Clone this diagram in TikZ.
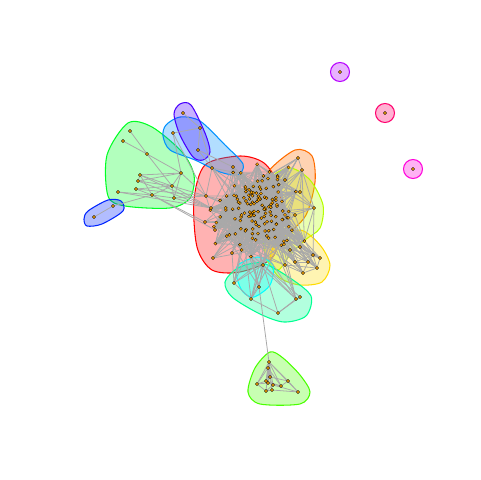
\documentclass[tikz,border=0pt]{standalone}
\definecolor{gred}{HTML}{FF0000}
\definecolor{gorange}{HTML}{FF6D00}
\definecolor{gyellow}{HTML}{FFDB00}
\definecolor{glime}{HTML}{B6FF00}
\definecolor{gchart}{HTML}{49FF00}
\definecolor{ggreen}{HTML}{00FF24}
\definecolor{gspring}{HTML}{00FF92}
\definecolor{gcyan}{HTML}{00FFFF}
\definecolor{gazure}{HTML}{0092FF}
\definecolor{gblue}{HTML}{0024FF}
\definecolor{gindigo}{HTML}{4900FF}
\definecolor{gviolet}{HTML}{B600FF}
\definecolor{gmagenta}{HTML}{FF00DB}
\definecolor{gpink}{HTML}{FF006D}
\definecolor{darkgrey}{HTML}{A9A9A9}
\definecolor{vorange}{HTML}{FFA500}
\pgfdeclarelayer{hulls}
\pgfdeclarelayer{edges}
\pgfsetlayers{hulls,edges,main}
\tikzset{
  hull/.style={draw=#1, fill=#1, fill opacity=0.3, line width=0.6pt},
  vtx/.style={circle, fill=vorange, draw=black, line width=0.15pt, inner sep=0pt, minimum size=1.8pt},
  lnk/.style={draw=darkgrey, line width=0.45pt}
}
\begin{document}
\begin{tikzpicture}[x=0.02cm,y=-0.02cm]
  \useasboundingbox (0,0) rectangle (480,480);
  \pgfmathsetseed{11}
  % group hulls
  \begin{pgfonlayer}{hulls}
  \draw[hull=gred] plot[smooth cycle] coordinates {(205,165) (240,156) (264,163) (278,185) (282,225) (272,258) (240,272) (212,270) (197,247) (194,200)};
  \draw[hull=gorange] plot[smooth cycle] coordinates {(268,172) (295,150) (312,156) (315,182) (306,215) (288,232) (270,228) (262,198)};
  \draw[hull=glime] plot[smooth cycle] coordinates {(270,180) (290,168) (310,180) (323,205) (320,228) (305,240) (290,255) (278,270) (266,258) (262,220)};
  \draw[hull=gyellow] plot[smooth cycle] coordinates {(276,243) (300,230) (320,245) (330,265) (322,282) (300,285) (280,278) (270,262)};
  \draw[hull=gspring] plot[smooth cycle] coordinates {(225,282) (238,268) (262,263) (290,278) (311,296) (306,316) (284,322) (260,314) (232,297)};
  \draw[hull=gcyan] plot[smooth cycle] coordinates {(238,265) (258,257) (273,265) (270,285) (254,297) (243,292) (237,278)};
  \draw[hull=gchart] plot[smooth cycle] coordinates {(270,352) (283,358) (300,375) (310,392) (300,404) (260,404) (248,392) (255,368)};
  \draw[hull=ggreen] plot[smooth cycle] coordinates {(128,123) (152,127) (182,152) (194,175) (190,198) (170,208) (125,206) (108,196) (107,155)};
  \draw[hull=gblue] plot[smooth cycle] coordinates {(88,211) (108,200) (121,201) (123,211) (102,224) (87,226) (84,219)};
  \draw[hull=gazure] plot[smooth cycle] coordinates {(166,125) (180,117) (200,121) (225,145) (243,164) (238,175) (220,172) (195,160) (170,150) (163,136)};
  \draw[hull=gindigo] plot[smooth cycle] coordinates {(180,104) (191,105) (205,133) (210,152) (203,160) (193,157) (180,135) (174,114)};
  \draw[hull=gviolet] (340,72) circle (9.5);
  \draw[hull=gpink] (385,113) circle (9.5);
  \draw[hull=gmagenta] (413,169) circle (9.5);
  \end{pgfonlayer}
  % dense core
  \foreach \i in {1,...,140}{
    \pgfmathsetmacro\px{256+18*(rand+rand+rand)}
    \pgfmathsetmacro\py{212+19*(rand+rand+rand)}
    \node[vtx] (c\i) at (\px,\py) {};
  }
  % left green group
  \node[vtx] (g1) at (130,131) {};
  \node[vtx] (g2) at (123,141) {};
  \node[vtx] (g3) at (147,154) {};
  \node[vtx] (g4) at (140,175) {};
  \node[vtx] (g5) at (138,181) {};
  \node[vtx] (g6) at (136,189) {};
  \node[vtx] (g7) at (118,192) {};
  \node[vtx] (g8) at (152,195) {};
  \node[vtx] (g9) at (172,186) {};
  \node[vtx] (g10) at (181,173) {};
  \node[vtx] (g11) at (174,198) {};
  % blue pair
  \node[vtx] (b1) at (113,206) {};
  \node[vtx] (b2) at (94,217) {};
  % azure and indigo
  \node[vtx] (l1) at (173,133) {};
  \node[vtx] (l2) at (200,128) {};
  \node[vtx] (l3) at (212,168) {};
  \node[vtx] (l4) at (233,167) {};
  \node[vtx] (p1) at (183,113) {};
  \node[vtx] (p2) at (198,150) {};
  % red rim
  \node[vtx] (r1) at (206,196) {};
  \node[vtx] (r2) at (211,208) {};
  \node[vtx] (r3) at (205,222) {};
  \node[vtx] (r4) at (215,230) {};
  \node[vtx] (r5) at (213,258) {};
  \node[vtx] (r6) at (232,253) {};
  % orange, lime, yellow
  \node[vtx] (o1) at (298,158) {};
  \node[vtx] (o2) at (302,170) {};
  \node[vtx] (o3) at (285,180) {};
  \node[vtx] (w1) at (314,208) {};
  \node[vtx] (w2) at (300,192) {};
  \node[vtx] (w3) at (295,215) {};
  \node[vtx] (y1) at (317,268) {};
  \node[vtx] (y2) at (313,255) {};
  \node[vtx] (y3) at (303,273) {};
  \node[vtx] (y4) at (295,262) {};
  \node[vtx] (y5) at (308,262) {};
  \node[vtx] (y6) at (290,250) {};
  \node[vtx] (y7) at (320,258) {};
  \node[vtx] (y8) at (300,247) {};
  \node[vtx] (y9) at (285,265) {};
  % aqua and cyan
  \node[vtx] (a1) at (234,283) {};
  \node[vtx] (a2) at (251,299) {};
  \node[vtx] (a3) at (278,313) {};
  \node[vtx] (a4) at (296,299) {};
  \node[vtx] (a5) at (300,297) {};
  \node[vtx] (a6) at (259,287) {};
  \node[vtx] (a7) at (263,265) {};
  % bottom green group
  \node[vtx] (m1) at (269,362) {};
  \node[vtx] (m2) at (268,368) {};
  \node[vtx] (m3) at (257,384) {};
  \node[vtx] (m4) at (266,381) {};
  \node[vtx] (m5) at (268,383) {};
  \node[vtx] (m6) at (273,385) {};
  \node[vtx] (m7) at (272,390) {};
  \node[vtx] (m8) at (266,391) {};
  \node[vtx] (m9) at (281,386) {};
  \node[vtx] (m10) at (288,381) {};
  \node[vtx] (m11) at (298,392) {};
  \node[vtx] (m12) at (270,377) {};
  % isolated vertices
  \node[vtx] (s1) at (340,72) {};
  \node[vtx] (s2) at (385,113) {};
  \node[vtx] (s3) at (413,169) {};
  % edges
  \begin{pgfonlayer}{edges}
  \foreach \i in {1,...,140}{
    \foreach \k in {1,...,8}{
      \pgfmathtruncatemacro\j{random(1,140)}
      \draw[lnk] (c\i) -- (c\j);
    }
  }
  \foreach \n in {r1,r2,r3,r4,r5,r6,l3,l4,o1,o2,o3,w1,w2,w3,y1,y2,y3,y4,y5,y6,y7,y8,y9,a1,a6,a7,a2,a4}{
    \foreach \k in {1,...,5}{
      \pgfmathtruncatemacro\j{random(1,140)}
      \draw[lnk] (\n) -- (c\j);
    }
  }
  \foreach \u/\v in {g1/g3,g2/g3,g3/g10,g3/g9,g4/g9,g4/g8,g5/g9,g5/g10,g6/g8,g6/g9,g7/g8,g8/g9,g8/g11,g9/g10,g9/g11,g10/g11,g4/g5,g4/g10,
      g9/r1,g9/r2,g10/r1,g4/r2,g5/r2,g8/r3,g11/r2,g11/r1,g6/r1,g7/r2,g8/r4,b1/g8,b1/b2,
      l1/g10,l1/l2,l2/p2,p1/l2,p2/l4,l2/l3,p2/l3,l3/r1,l1/r1,l4/r2,
      y1/y2,y1/y3,y1/y5,y1/y7,y2/y5,y2/y7,y3/y4,y3/y9,y4/y5,y4/y6,y5/y8,y6/y8,y6/y9,y7/y8,y2/y4,y3/y5,y1/y9,y5/y6,
      o1/o2,o1/o3,o2/w2,w1/w2,w1/w3,w1/y2,o2/w1,
      a1/a7,a1/a2,a2/a6,a2/a3,a3/a4,a3/a5,a4/a5,a6/a7,a3/a7,a4/a7,a5/a7,a1/r6,
      m1/a6,m1/m2,m1/m3,m1/m4,m1/m5,m1/m6,m1/m7,m1/m8,m1/m9,m1/m10,m1/m11,m1/m12,m2/m3,m2/m4,m2/m5,m2/m7,m2/m9,m2/m12,
      m3/m4,m4/m9,m9/m10,m10/m11,m3/m8,m8/m7,m7/m11,m6/m11,m3/m5,m5/m9,m12/m10,m6/m8}{
    \draw[lnk] (\u) -- (\v);
  }
  \end{pgfonlayer}
\end{tikzpicture}
\end{document}
